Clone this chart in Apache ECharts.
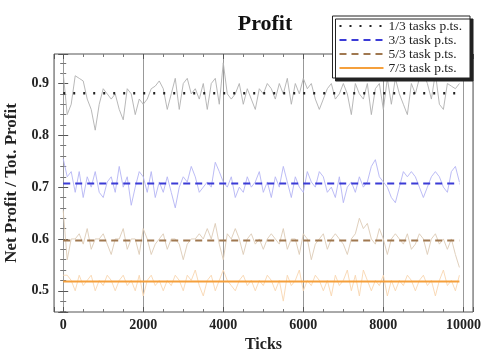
<!DOCTYPE html>
<html>
<head>
<meta charset="utf-8">
<script src="https://cdn.jsdelivr.net/npm/echarts@6/dist/echarts.min.js"></script>
<style>
  html, body { margin: 0; padding: 0; background: #fff; }
  #chart { width: 483px; height: 349px; }
</style>
</head>
<body>
<div id="chart"></div>
<script>
const STEP = 100;
const names = ['1/3 tasks p.ts.', '3/3 task p.ts.', '5/3 task p.ts.', '7/3 task p.ts.'];
const means = [0.881, 0.707, 0.597, 0.518];
const lastTick = 9900;

const black = [0.92,0.84,0.86,0.915,0.91,0.905,0.87,0.85,0.81,0.86,0.89,0.88,0.87,0.88,0.85,0.83,0.89,0.88,0.84,0.87,
  0.86,0.87,0.89,0.895,0.905,0.89,0.85,0.88,0.91,0.85,0.9,0.91,0.88,0.89,0.87,0.9,0.85,0.9,0.91,0.86,
  0.94,0.88,0.87,0.88,0.9,0.86,0.89,0.87,0.85,0.89,0.88,0.9,0.89,0.87,0.9,0.88,0.91,0.86,0.9,0.88,
  0.91,0.89,0.9,0.87,0.85,0.87,0.89,0.9,0.87,0.88,0.9,0.88,0.84,0.9,0.88,0.87,0.9,0.84,0.89,0.9,
  0.85,0.91,0.86,0.91,0.88,0.86,0.84,0.9,0.88,0.91,0.92,0.9,0.87,0.92,0.86,0.85,0.9,0.895,0.89,0.9];
const blue = [0.755,0.72,0.73,0.69,0.73,0.68,0.72,0.7,0.73,0.69,0.68,0.71,0.72,0.69,0.74,0.7,0.72,0.665,0.7,0.73,
  0.72,0.69,0.73,0.68,0.71,0.69,0.72,0.69,0.66,0.7,0.72,0.71,0.74,0.72,0.69,0.7,0.71,0.7,0.748,0.73,
  0.71,0.7,0.72,0.68,0.7,0.69,0.72,0.7,0.71,0.73,0.69,0.71,0.68,0.72,0.7,0.74,0.71,0.68,0.72,0.7,
  0.69,0.73,0.71,0.7,0.73,0.72,0.69,0.7,0.68,0.72,0.67,0.7,0.71,0.69,0.72,0.7,0.71,0.74,0.753,0.72,
  0.71,0.7,0.68,0.67,0.7,0.73,0.72,0.73,0.72,0.7,0.68,0.7,0.72,0.73,0.72,0.7,0.69,0.73,0.74,0.71];
const brown = [0.655,0.56,0.6,0.6,0.61,0.59,0.62,0.58,0.6,0.6,0.61,0.59,0.57,0.6,0.6,0.62,0.58,0.6,0.6,0.57,
  0.62,0.6,0.57,0.59,0.6,0.61,0.58,0.6,0.6,0.59,0.56,0.59,0.6,0.6,0.61,0.6,0.62,0.6,0.63,0.59,
  0.56,0.61,0.6,0.62,0.6,0.57,0.6,0.61,0.59,0.6,0.58,0.6,0.61,0.6,0.59,0.62,0.58,0.6,0.6,0.57,
  0.61,0.6,0.56,0.59,0.6,0.61,0.58,0.6,0.61,0.6,0.59,0.57,0.6,0.61,0.64,0.62,0.63,0.6,0.59,0.62,
  0.6,0.57,0.6,0.61,0.6,0.59,0.61,0.58,0.59,0.61,0.6,0.57,0.6,0.61,0.59,0.6,0.58,0.6,0.57,0.545];
const orange = [0.53,0.53,0.52,0.5,0.53,0.51,0.52,0.53,0.5,0.52,0.51,0.53,0.52,0.5,0.52,0.53,0.51,0.52,0.5,0.53,
  0.49,0.52,0.53,0.51,0.52,0.5,0.52,0.51,0.53,0.52,0.5,0.53,0.52,0.54,0.51,0.49,0.52,0.53,0.5,0.52,
  0.54,0.52,0.51,0.5,0.52,0.53,0.51,0.52,0.5,0.52,0.51,0.53,0.52,0.5,0.52,0.48,0.53,0.51,0.52,0.54,
  0.5,0.52,0.51,0.53,0.52,0.5,0.52,0.49,0.53,0.51,0.52,0.54,0.5,0.53,0.49,0.54,0.52,0.5,0.52,0.51,
  0.53,0.49,0.52,0.5,0.52,0.51,0.53,0.52,0.5,0.52,0.53,0.51,0.52,0.49,0.52,0.54,0.51,0.52,0.5,0.53];

const FONT = 'Liberation Serif';
const noisy = [black, blue, brown, orange];
const noisyColors = ['#b0b0b0', '#b4b4f4', '#dccbb6', '#f8d6b0'];
const meanColors = ['#222222', '#3b3bd6', '#a07850', '#f5a03c'];
const meanTypes = [[2, 8], [7, 5], [7, 5], 'solid'];

const myChart = echarts.init(document.getElementById('chart'));

const toPairs = arr => arr.map((v, i) => [i * STEP, v]);

const series = [];
noisy.forEach((arr, k) => {
  series.push({
    name: names[k] + ' raw',
    type: 'line',
    data: toPairs(arr),
    symbol: 'none',
    silent: true,
    lineStyle: { width: 0.9, color: noisyColors[k] },
    z: 2
  });
});
means.forEach((m, k) => {
  series.push({
    name: names[k],
    type: 'line',
    data: [[0, m], [lastTick, m]],
    symbol: 'none',
    itemStyle: { color: meanColors[k] },
    lineStyle: { width: k === 0 ? 2.5 : 2, color: meanColors[k], type: meanTypes[k] },
    z: 3
  });
});

const tickFmt = v => (Math.abs(v * 10 - Math.round(v * 10)) < 1e-6 ? v.toFixed(1) : '');
const xFmt = v => (v >= 0 && v % 2000 === 0 ? String(v) : '');

const axisFont = { fontFamily: FONT, fontWeight: 'bold', fontSize: 14, color: '#222' };
const tickStyle = { inside: true, length: 5, lineStyle: { color: '#555' } };

option = {
  animation: false,
  backgroundColor: '#fff',
  title: {
    text: 'Profit',
    left: 260,
    top: 8,
    textAlign: 'center',
    textStyle: { fontFamily: FONT, fontWeight: 'bold', fontSize: 22, color: '#111' }
  },
  legend: {
    data: names,
    orient: 'vertical',
    right: 13,
    top: 16,
    itemWidth: 44,
    itemHeight: 8,
    itemGap: 0,
    padding: [3, 8, 3, 6],
    backgroundColor: '#fff',
    borderColor: '#222',
    borderWidth: 1,
    shadowColor: '#222',
    shadowBlur: 0,
    shadowOffsetX: 3,
    shadowOffsetY: 3,
    itemStyle: { color: 'rgba(0,0,0,0)', borderWidth: 0 },
    textStyle: { fontFamily: FONT, fontSize: 13.5, lineHeight: 13, color: '#222' },
    selectedMode: false
  },
  grid: {
    left: 54, right: 10, top: 54, bottom: 37,
    outerBoundsMode: 'none',
    show: true, borderColor: '#555', borderWidth: 1
  },
  xAxis: [{
    type: 'value',
    min: -230,
    max: 10240,
    splitNumber: 5,
    name: 'Ticks',
    nameLocation: 'middle',
    nameGap: 18,
    nameTextStyle: { fontFamily: FONT, fontWeight: 'bold', fontSize: 16, color: '#222' },
    axisLine: { show: false },
    axisTick: tickStyle,
    minorTick: { show: true, splitNumber: 4, length: 3, lineStyle: { color: '#777' } },
    axisLabel: { ...axisFont, formatter: xFmt, margin: 6 },
    splitLine: { show: true, lineStyle: { color: '#999', width: 1 } }
  }, {
    type: 'value', position: 'top', min: -230, max: 10240, splitNumber: 5,
    axisLine: { show: false }, axisLabel: { show: false }, splitLine: { show: false },
    axisTick: tickStyle,
    minorTick: { show: true, splitNumber: 4, length: 3, lineStyle: { color: '#777' } }
  }],
  yAxis: [{
    type: 'value',
    min: 0.459,
    max: 0.957,
    splitNumber: 5,
    name: 'Net Profit / Tot. Profit',
    nameLocation: 'middle',
    nameGap: 34,
    nameTextStyle: { fontFamily: FONT, fontWeight: 'bold', fontSize: 17, color: '#222' },
    axisLine: { show: false },
    axisTick: tickStyle,
    minorTick: { show: true, splitNumber: 5, length: 3, lineStyle: { color: '#777' } },
    axisLabel: { ...axisFont, formatter: tickFmt, margin: 5 },
    splitLine: { show: false }
  }, {
    type: 'value', position: 'right', min: 0.459, max: 0.957, splitNumber: 5,
    axisLine: { show: false }, axisLabel: { show: false }, splitLine: { show: false },
    axisTick: tickStyle,
    minorTick: { show: true, splitNumber: 5, length: 3, lineStyle: { color: '#777' } }
  }],
  series: series
};

myChart.setOption(option);
</script>
</body>
</html>
